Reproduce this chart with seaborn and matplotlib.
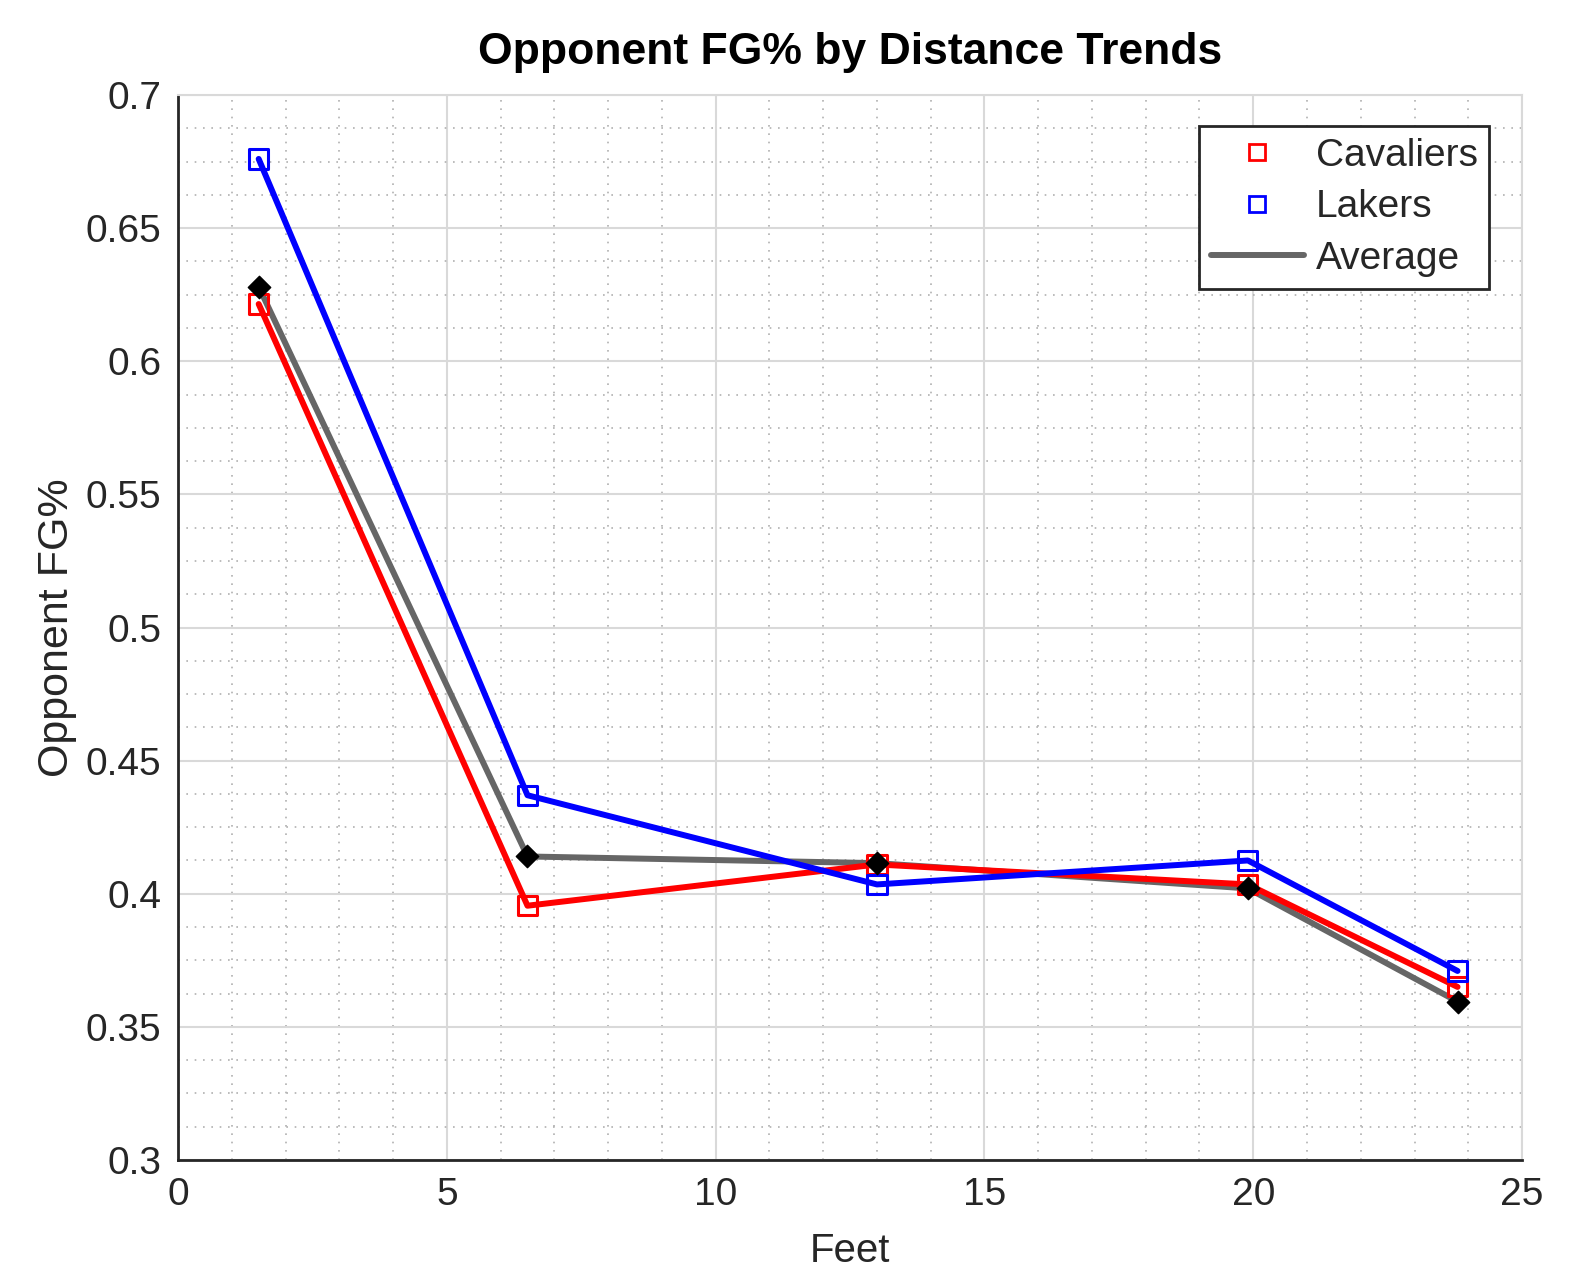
import numpy as np
import pandas as pd
import matplotlib
matplotlib.use("Agg")
import matplotlib.pyplot as plt
from matplotlib.lines import Line2D
from matplotlib.ticker import MultipleLocator
import seaborn as sns

# data
feet = [1.5, 6.5, 13.0, 19.9, 23.8]
cavaliers = [0.6215, 0.3955, 0.411, 0.4035, 0.365]
lakers = [0.676, 0.437, 0.4035, 0.4125, 0.371]
average = [0.628, 0.414, 0.4115, 0.402, 0.3595]
teams = ["Average", "Cavaliers", "Lakers"]
team_colors = {"Average": "#666666", "Cavaliers": "red", "Lakers": "blue"}

df = pd.DataFrame({
    "Feet": feet * 3,
    "FG": average + cavaliers + lakers,
    "Team": ["Average"] * 5 + ["Cavaliers"] * 5 + ["Lakers"] * 5,
})

sns.set_style("white")
plt.rcParams["font.family"] = ["Liberation Sans", "DejaVu Sans"]

fig = plt.figure(figsize=(15.84, 12.74), dpi=100)
ax = fig.add_axes([0.1124, 0.0895, 0.8485, 0.8359])

sns.lineplot(data=df, x="Feet", y="FG", hue="Team", hue_order=teams,
             palette=team_colors, linewidth=4.3, legend=False, ax=ax,
             zorder=3)

# average markers (black diamonds)
sns.scatterplot(x=feet, y=average, marker="D", s=130, color="black",
                edgecolor="black", linewidth=1, ax=ax, zorder=5)
# open squares for teams
for name, vals in [("Cavaliers", cavaliers), ("Lakers", lakers)]:
    ax.scatter(feet, vals, marker="s", s=190, facecolors="none",
               edgecolors=team_colors[name], linewidths=2.2, zorder=4)

ax.set_xlim(0, 25)
ax.set_ylim(0.3, 0.7)
ax.xaxis.set_major_locator(MultipleLocator(5))
ax.xaxis.set_minor_locator(MultipleLocator(1))
ax.yaxis.set_major_locator(MultipleLocator(0.05))
ax.yaxis.set_minor_locator(MultipleLocator(0.0125))
ax.set_xticks([0, 5, 10, 15, 20, 25])
ax.set_xticklabels(["0", "5", "10", "15", "20", "25"])
ax.set_yticks([0.3, 0.35, 0.4, 0.45, 0.5, 0.55, 0.6, 0.65, 0.7])
ax.set_yticklabels(["0.3", "0.35", "0.4", "0.45", "0.5", "0.55", "0.6",
                    "0.65", "0.7"])

ax.grid(which="major", color="#d9d9d9", linewidth=1.5, linestyle="-")
ax.grid(which="minor", color="#b0b0b0", linewidth=1.2, linestyle=(0, (1, 4)))
ax.set_axisbelow(True)

ax.tick_params(axis="both", which="major", direction="in", length=9,
               width=2, labelsize=28, colors="#262626", pad=12)
ax.tick_params(axis="both", which="minor", length=0)

for side in ["left", "bottom"]:
    ax.spines[side].set_color("#262626")
    ax.spines[side].set_linewidth(2)
for side in ["top", "right"]:
    ax.spines[side].set_color("#d9d9d9")
    ax.spines[side].set_linewidth(1.5)

ax.set_title("Opponent FG% by Distance Trends", fontsize=32,
             fontweight="bold", color="black", pad=22)
ax.set_xlabel("Feet", fontsize=29, color="#262626", labelpad=14)
ax.set_ylabel("Opponent FG%", fontsize=31, color="#262626", labelpad=6)

handles = [
    Line2D([], [], color="red", marker="s", linestyle="none",
           markerfacecolor="none", markersize=11, markeredgewidth=2),
    Line2D([], [], color="blue", marker="s", linestyle="none",
           markerfacecolor="none", markersize=11, markeredgewidth=2),
    Line2D([], [], color="#666666", linewidth=4.3),
]
leg = ax.legend(handles, ["Cavaliers", "Lakers", "Average"], loc="upper right",
                fontsize=28, frameon=True, fancybox=False, framealpha=1,
                edgecolor="#262626", borderpad=0.3, labelspacing=0.4,
                handlelength=2.4, handletextpad=0.3,
                bbox_to_anchor=(0.99, 0.989))
leg.get_frame().set_linewidth(2)

fig.savefig("out.png", dpi=100)
